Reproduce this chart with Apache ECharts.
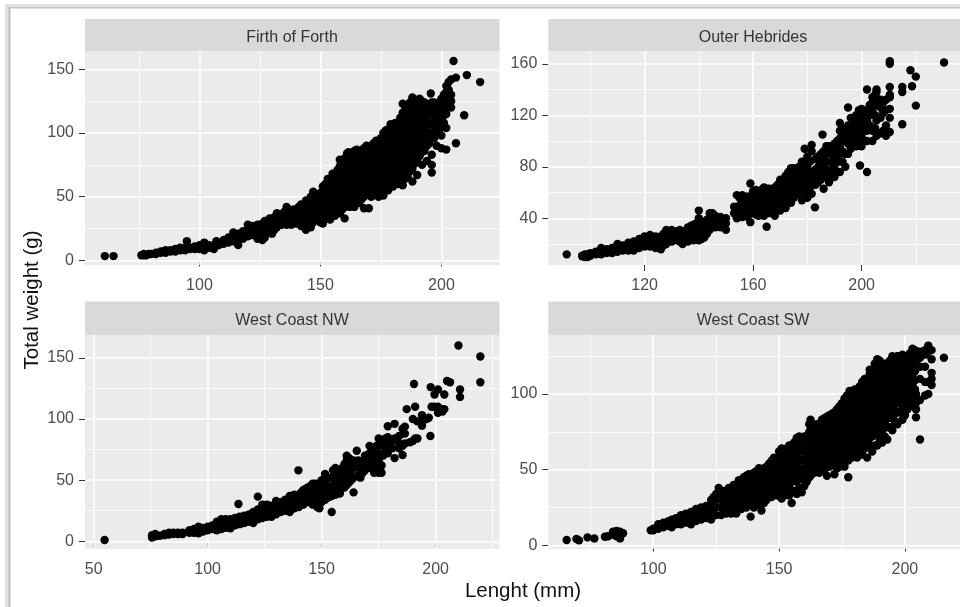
<!DOCTYPE html>
<html>
<head>
<meta charset="utf-8">
<script src="https://cdn.jsdelivr.net/npm/echarts@6/dist/echarts.min.js"></script>
<style>
html,body{margin:0;padding:0;width:960px;height:607px;overflow:hidden;background:#fff}
#c{width:975px;height:607px;filter:blur(0.45px)}
</style>
</head>
<body>
<div id="c"></div>
<script>
// Each row: length (mm), then the total weights (g) read at that length.
const firthOfForth = [
[60.9,3.4],[64.5,3.4],[76,4],[77,4,5],[78,4],[79,5],[80,5],[82,5,6],[84,6,7],[86,6,8],[88,7,8],[90,7,9],[92,8,10],[94,8,10],[94.8,15],[96,9,10],[98,9,11],[100,9,12],[102,8,11,14],[104,10,12],[106,9,12],[107,13,15],[108,12],[110,13,16],[112,14,18],[114,15,19,22],[116,12,17,21],[118,17,23],[120,19,24,28],[122,20,27],[124,17,24,28],[126,16,23,29],[128,22,28],[129,33],[130,21,27,32],[132,26,30,37],[134,28,33],[136,28,35,42],[138,28,34,38],[140,29,35,39],[142,27,33,38,44],[144,24,32,40,47],[146,26,34,42,50],[147,54],[148,36,44,52],[150,30,38,46,53],[151,29],[152,33,41,49,56,60],[154,32,40,48,55,62],[156,35,43,51,58,65],[158,37,45,52,60,67,74,79],[160,33,42,50,58,65,72,80],[161.6,85],[162,42,50,58,66,74,82],[164,42,50,58,65,73,80,86],[166,45,53,61,69,77,85],[168,41,50,58,66,74,82,88],[170,41,55,63,71,79,87],[172,55,62,70,78,86,92],[174,50,58,66,74,82,90,94],[176,51,60,68,76,84,92,100],[178,55,63,71,79,87,95,103],[180,58,66,74,82,90,98,106],[182,60,68,76,84,92,100,108],[184,59,68,76,84,92,100,108,116,123],[186,66,74,82,90,98,106,114,120],[188,62,72,80,88,96,104,112,120,128],[190,67,78,86,94,102,110,118,126],[192,75,85,93,101,109,117,125],[194,78,90,98,106,114,122],[195.6,131],[196,69,75,83,100,108,116,124],[198,90,100,108,116,122],[200,88,98,106,112,118,127],[202,87,104,115,120,127,132,137],[204,120,125,130,142],[205,156.5],[206,92,143.5],[209.4,114],[210.5,145.5],[216,140],
[121,22,26],[125,20,26],[127,18,25,31],[131,24,30,34],[133,28,34],[135,30,38],[137,31,37,40],[139,30,36,40],[141,30,36,42],[143,30,36,42],[145,28,36,44],[147,30,38,46],[149,34,42,50],[151,36,44,52,58],[153,36,44,52,60,64],[155,38,46,54,62,68],[157,40,48,56,64,71],[159,40,46,54,62,70,78],[161,46,54,62,69,76,84],[163,46,54,62,70,77,84],[165,48,57,65,73,81,87],[167,48,54,62,70,78,86],[169,52,60,68,76,84,90],[171,50,59,66,74,82,90],[173,54,62,70,78,86,94],[175,56,64,72,80,88,96],[177,59,67,75,83,91,99,102],[179,60,70,78,86,94,102,107],[181,62,70,78,86,94,102,108],[183,64,72,80,88,96,104,110,112],[185,64,70,78,86,94,102,110,118],[187,70,78,86,94,102,110,118,124],[189,76,84,92,100,108,116,124],[191,82,90,98,106,114,122,127],[193,86,94,102,110,118,124],[195,92,100,108,116,122],[197,96,104,112,120,124],[199,102,110,118,124],[201,108,114,120,126,130],[203,124,128,134,140]
];
const outerHebrides = [
[91.3,12],[97,10.5,11],[98,10,12],[99,10,12],[100,11,13],[102,12,14],[104,12,15,17],[106,13,16],[108,13,17],[110,14,18,20],[112,15,19],[114,15,18,21],[116,15,19,22],[118,17,21,24],[120,18,22,26],[122,18,22,27],[124,17,22,26],[126,16,21,26],[128,20,25,31],[130,22,27,31],[132,23,27,30],[134,20,25,30],[136,22,27,33],[138,23,29,35],[140,23,28,34,40,46],[142,25,31,37],[144,31,37,44],[146,33,38,42],[148,33,37,41],[150,31,36,40],[153,44,49],[154,40,47,58],[156,41,48,53,58],[158,41,47,52,57],[159,37,46,52,67],[160,44,50,56,61],[162,42,48,54,60],[164,42,48,54,60,64],[165,33.5],[166,44,50,56,63],[168,42,48,54,60,64],[170,46,52,58,64,70],[172,48,54,60,66,73],[174,52,58,64,72,79],[176,58,64,70,76],[178,54,64,70,76,84],[179,94],[180,56,62,68,74,80,88],[181.6,59,92,97],[182.8,48.5],[183,66,72,78,86],[185,70,76,82,90],[185.6,105],[186,63,74,80,86,92],[188,68,76,84,92,96],[190,72,80,86,92,98],[192,76,84,90,96,102,108,114],[194,80,90,100,106,110],[195,126],[196,94,100,106,112,118],[198,96,102,108,116,120],[199.4,81],[200,96,104,110,116,122,125],[202,76,100,108,116,124,140],[204,100,108,124,130,134],[205.5,104,116,133,138,140],[207,106,118,126,132],[209,104,112,124,132],[210.4,107,118,125,134,136,142,160,162],[215,113,138,142],[218,155],[218.6,142.5],[220,127.5,150],[230.4,161],
[119,19,23],[121,20,24],[123,20,24],[125,19,24],[127,19,24,28],[129,24,29],[131,25,29],[133,22,27,31],[135,24,29],[137,25,30,34],[139,25,31,36],[141,24,30,36],[143,28,34,39],[145,34,40,44],[147,35,39],[149,34,38],[155,44,50,56],[157,44,50,55],[161,43,47,53,58,62],[163,45,51,57,62],[165,44,47,53,59,63],[167,46,52,58,62],[169,48,55,61,66],[171,50,56,62,68],[173,52,60,68,76],[175,56,62,68,74,79],[177,60,66,72,78,80],[179,60,66,72,78,84],[181,64,70,76,84],[184,68,74,80,88],[187,72,78,84,90,96],[189,72,78,84,90,96],[191,76,84,92,100],[193,84,92,100,106],[195,90,98,104,112],[197,98,104,110,114],[199,100,106,112,118,124],[201,100,112,120],[203,112,120,128],[205,110,120,128,136],[208,108,122,130]
];
const westCoastNW = [
[54.8,1],[75.6,3,5],[77,4,6],[79,4.5],[81,5,6],[83,5.5,7],[85,6,7],[87,6,7],[89,6,7],[92,7,9],[94,7,10],[96,6.5,10,12],[98,8,11],[100,9,12],[102,10,13],[104,9,13,16],[106,10,14,18],[108,11,15,18],[110,10.6,15,18],[112,13,17,19],[113.5,30.5],[114,14,18,20],[116,15,19,21],[118,16,20,22],[120,15,19,24],[122,18,22,26,36.5],[124,19,23,27,30],[126,20,25,30],[128,20,25,29],[130,22,27,33],[132,24,28,32],[134,25,30,34],[136,24,29,34,37],[138,27,32,38],[139.8,58],[140,28,33,38],[142,30,36,42],[144,32,38,44],[146,30,36,42,47],[148,28,34,40,47],[149,27,36,44],[150,32,38,44,50],[151.5,34,42,48,55],[153,36,44,52],[154.4,24,37],[156,38,46,54,60],[158,39,46,52,58],[160,44,50,56,63],[161,70],[162,48,54,62,68],[164,40,52,60,66],[165.4,74],[166,54,60,66],[167,52,62],[169,58,64,70],[171,60,66,72,78],[173,56,62,70,76],[175,56,66,72,78,84],[176.3,56,62],[177,70,78,83],[179,72,78,85,94],[181,76,82],[182,68,84,96],[184,76,80,86],[185.5,70.5,78,92],[186.5,80,88,93.7],[187.3,108],[188.7,81],[190,82,100],[190.5,128.5],[191,84,110],[192,84,98],[194,94.5,97,103],[196,100],[197,101],[197.7,86],[197.8,126],[198.2,110],[199.5,110,120],[201,105,110,124],[203,106,108],[203.8,108,120],[205,131],[206.3,130],[210,160],[210.7,118,124],[219.6,130,151],
[125,22,27],[127,22,27],[131,25,30],[133,26,31],[135,28,33],[137,28,33,37],[139,30,36],[141,30,35,40],[143,32,38,43],[145,34,40,45],[147,32,38,44,47],[149.5,32,40,46],[152,38,44,50],[155,40,46,52,58],[157,42,50,56],[159,44,50,56,60],[161,46,52,60,66],[163,50,58,64],[168,56,60,66],[170,60,66,70],[172,62,68,74],[174,62,70,78],[178,74,80,84]
];
const westCoastSW = [
[65.6,3.5],[69.5,4.2],[70.5,3.3],[73.9,5.3],[76.6,4.6],[80.8,5.7],[82,6],[84,7,9],[85.4,6,9.5],[86.8,4.6,9],[88,8],[99,10],[100,10,11],[102,11,14],[104,12,15],[106,13,16],[107.3,12,17],[109,14,18],[111,14,17,20],[113,15,19,21],[115,14,18,22],[117,16,20,24],[119,17,21,25],[121,18,22,26],[123,17,22,27,30],[125,20,25,30,34],[126,38],[127,20,25,30,34],[129,21,26,31,36],[131,21,27,32,37],[133,21,27,33,39],[135,24,30,36,42],[137,25,31,37,43,46],[138.7,19,28,34,40,46],[141,27,33,39,45,49],[143,23,30,36,42,48,50],[145,30,36,42,48,52],[147,32,38,44,50,56],[149,33,39,45,51,57],[151,31,36,42,48,54,60,64],[153,36,42,48,54,60,64],[155,28,35,42,48,54,60,66],[157,34,42,48,54,60,66,71],[159,35,44,50,56,62,68],[161,42,48,54,60,66,72],[162.5,46,52,58,64,70,76,83],[164,48,54,60,66,72,78],[166,48,54,60,66,72,78],[168,50,56,62,68,74,80,84],[169,46],[170,52,58,64,70,76,82,86],[172,47,54,60,66,72,78,84,88],[174,52,58,64,70,76,82,88,92],[176,52,60,66,72,78,84,90,97],[177.5,45,56,62,68,74,80,86,92,98],[179,58,64,70,76,82,88,94,100],[181,58,66,72,78,84,90,96,102],[183,60,68,74,80,86,92,98,104,108],[185,58,68,74,80,86,92,98,104,110],[187,62,72,78,84,90,96,102,108,114],[189,66,74,80,86,92,98,104,110,116,123],[191,68,76,82,88,94,100,106,112,118,120],[193,70,78,84,90,96,102,108,114,120],[195,76,84,90,96,102,108,114,120,125],[197,80,88,94,100,106,112,118,125],[199,83,92,98,104,110,116,122,126],[201,90,96,102,108,114,120],[203,92,100,106,112,118,124,130],[204.4,84.6,90,94,100,118,122,128],[206,70,96,110,118,124,128],[208,99,108,118,126,129],[209.3,100,108,128,132],[210.6,106,110,114,123,129],[215.5,124],
[124,20,24,29,32],[128,22,28,33,36],[130,24,29,34,38],[132,24,30,35,40],[134,26,32,38,43],[136,27,33,39,45],[138,30,36,42,47],[140,25,30,36,42,48],[142,28,33,39,45,51],[144,28,33,39,45,51],[146,33,39,45,51,54],[148,35,41,47,53,58],[150,33,39,45,51,57,62],[152,33,39,45,51,57,62],[154,33,39,45,51,57,63,66],[156,36,45,51,57,63,68],[158,38,45,51,57,63,69,72],[160,39,45,51,57,63,69,72],[162,45,51,57,63,69,75,80],[163,49,55,61,67,73,79],[165,51,57,63,69,75,80],[167,51,57,63,69,75,81,83],[169,53,59,65,71,77,83,85],[171,55,61,67,73,79,85,87],[173,51,57,63,69,75,81,87,90],[175,55,61,67,73,79,85,91,94],[177,59,65,71,77,83,89,95,99],[178,60,67,73,79,85,91,97,102],[180,62,69,75,81,87,93,99,103],[182,63,71,77,83,89,95,101,105],[184,64,71,77,83,89,95,101,107,110],[186,66,71,77,83,89,95,101,107,113,116],[188,66,75,81,87,93,99,105,111,117,120],[190,70,77,83,89,95,101,107,113,119,122],[192,72,81,87,93,99,105,111,117,120],[194,78,87,93,99,105,111,117,122],[196,82,87,93,99,105,111,117,123,124],[198,88,95,101,107,113,119,125],[200,86,93,99,105,111,117,123,125],[202,94,99,105,111,117,123,127],[204,98,103,109,115,121,127,129]
];

const panelNames = ['Firth of Forth','Outer Hebrides','West Coast NW','West Coast SW'];
const panelRows = [firthOfForth, outerHebrides, westCoastNW, westCoastSW];
const xTicks = [[100,150,200],[120,160,200],[50,100,150,200],[100,150,200]];
const yTicks = [[0,50,100,150],[40,80,120,160],[0,50,100,150],[0,50,100]];
const xMinor = [[75,125,175],[100,140,180,220],[75,125,175,225],[75,125,175]];
const yMinor = [[25,75,125],[20,60,100,140],[25,75,125],[25,75,125]];
const xRange = [[52.7,224],[84.5,237.5],[46.2,228],[58.3,223.2]];
const yRange = [[-3.6,164.4],[3.75,169.9],[-6.3,168.6],[-2.4,139]];
const boxes = [
  {l:85,t:51,w:414.5,h:214,st:19},
  {l:548.3,t:51,w:415,h:214,st:19},
  {l:85,t:335,w:414.5,h:214,st:301.5},
  {l:548.3,t:335,w:415,h:214,st:301.5}
];
const font = '"Liberation Sans", Arial, sans-serif';

const flatten = rows => rows.flatMap(r => r.slice(1).map(y => [r[0], y]));
const grid=[],xAxis=[],yAxis=[],series=[],graphic=[];

graphic.push(
  {type:'rect',silent:true,z:-10,shape:{x:5,y:4,width:970,height:4},style:{fill:'#E1E1E1'}},
  {type:'rect',silent:true,z:-10,shape:{x:5,y:4,width:4,height:603},style:{fill:'#E1E1E1'}},
  {type:'rect',silent:true,z:-9,shape:{x:8,y:7,width:970,height:1.5},style:{fill:'#C4C4C4'}},
  {type:'rect',silent:true,z:-9,shape:{x:8.5,y:7,width:2,height:600},style:{fill:'#BEBEBE'}}
);

boxes.forEach((b,i)=>{
  grid.push({left:b.l,top:b.t,width:b.w,height:b.h,show:true,backgroundColor:'#EBEBEB',borderWidth:0});
  const ax = (ticks,range,pos,margin)=>({
    type:'value',gridIndex:i,min:range[0],max:range[1],position:pos,scale:true,
    axisLine:{show:false},splitLine:{show:false},minorSplitLine:{show:false},
    axisTick:{show:true,length:6,customValues:ticks,lineStyle:{color:'#333333',width:1}},
    axisLabel:{show:true,customValues:ticks,color:'#4D4D4D',fontSize:16,fontFamily:font,margin}
  });
  xAxis.push(ax(xTicks[i],xRange[i],'bottom',13));
  yAxis.push(ax(yTicks[i],yRange[i],'left',11));
  const major={color:'#fff',width:1.5,type:'solid'}, minor={color:'#fff',width:0.8,type:'solid'};
  const lines=[
    ...xMinor[i].filter(v=>v<xRange[i][1]).map(v=>({xAxis:v,lineStyle:minor})),
    ...yMinor[i].filter(v=>v<yRange[i][1]).map(v=>({yAxis:v,lineStyle:minor})),
    ...xTicks[i].map(v=>({xAxis:v,lineStyle:major})),
    ...yTicks[i].map(v=>({yAxis:v,lineStyle:major}))
  ];
  series.push({type:'scatter',xAxisIndex:i,yAxisIndex:i,data:[],z:1,silent:true,
    markLine:{z:1,silent:true,symbol:'none',animation:false,label:{show:false},data:lines}});
  series.push({type:'scatter',name:panelNames[i],xAxisIndex:i,yAxisIndex:i,z:5,symbolSize:8.4,animation:false,
    itemStyle:{color:'#000',opacity:1},data:flatten(panelRows[i])});
  graphic.push({type:'rect',silent:true,z:-5,shape:{x:b.l,y:b.st,width:b.w,height:b.t-b.st},style:{fill:'#D9D9D9'}});
  graphic.push({type:'text',silent:true,z:10,x:i%2?753:292,y:i<2?37.5:320.5,
    style:{text:panelNames[i],fill:'#333333',font:'16px '+font,textAlign:'center',textVerticalAlign:'middle'}});
});
graphic.push({type:'text',silent:true,z:10,x:523,y:591,
  style:{text:'Lenght (mm)',fill:'#111',font:'20.5px '+font,textAlign:'center',textVerticalAlign:'middle'}});
graphic.push({type:'text',silent:true,z:10,x:32,y:300,rotation:Math.PI/2,
  style:{text:'Total weight (g)',fill:'#111',font:'20.5px '+font,textAlign:'center',textVerticalAlign:'middle'}});

const chart=echarts.init(document.getElementById('c'),null,{renderer:'canvas'});
chart.setOption({animation:false,backgroundColor:'#fff',grid,xAxis,yAxis,series,graphic});
</script>
</body>
</html>
